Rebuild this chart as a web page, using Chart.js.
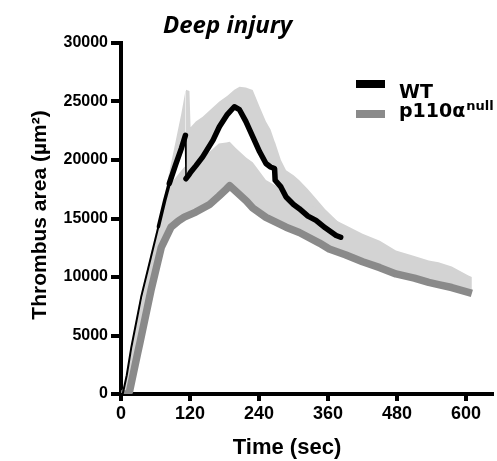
<!DOCTYPE html>
<html><head><meta charset="utf-8">
<script src="https://cdn.jsdelivr.net/npm/chart.js@4"></script>
<style>html,body{margin:0;padding:0;background:#fff}canvas{display:block}</style>
</head><body>
<canvas id="c" width="497" height="461"></canvas>
<script>
// ---- data (time in sec, thrombus area in µm²) ----
const WT_T  = [0,3,10,18,35,52,65,76,84,95,105,112,113,119,121,130,142,160,171,185,197,206,217,229,241,252,260,267,268,278,287,300,310,325,339,355,374,382];
const WT_V  = [0,0,1600,4000,8260,11690,14300,16550,18000,19600,21000,22100,18400,18800,18950,19500,20270,21700,22840,23900,24550,24300,23300,22000,20700,19700,19400,19270,18270,17700,16840,16200,15840,15200,14840,14200,13550,13400];
const WT_UP = [0,200,1900,4300,8600,12000,14700,17000,19000,21600,24000,25900,26000,25900,22800,23300,23700,24500,25000,25500,26000,26270,26200,25980,24550,23300,22600,21600,21500,20000,19130,18700,18270,17500,16700,15800,14900,14500];
const KO_T  = [0,10,12,15,29,33,52,70,87,100,110,130,154,170,183,189,200,218,229,252,287,310,345,362,390,420,450,478,510,535,552,575,604,610];
const KO_V  = [0,0,0,250,3500,4400,8830,12540,14260,14800,15120,15550,16200,16900,17500,17800,17300,16500,15900,15100,14260,13800,12900,12400,11900,11300,10800,10260,9900,9540,9350,9100,8690,8600];
const KO_UP = [0,1400,1900,2700,6500,7300,11500,15300,18000,18800,19400,19800,20700,21400,21500,21550,21000,20200,19800,18300,17300,16700,15700,15120,14450,13700,13100,12260,11800,11400,11260,10900,10120,10000];
const X_TICKS = [0,120,240,360,480,600];
const Y_TICKS = [0,5000,10000,15000,20000,25000,30000];
const SERIES = ['WT','p110\u03B1'];
const SERIES_SUP = ['', 'null'];
const TITLE = 'Deep injury';
const X_TITLE = 'Time (sec)';
const Y_TITLE = 'Thrombus area (\u00B5m\u00B2)';

const pts = (t, v) => t.map((x, i) => ({x: x, y: v[i]}));
const BAND = '#d3d3d3', KO_COL = '#8a8a8a';
const TICK_FONT = '"Liberation Sans", Arial, sans-serif';

const deco = {
  id: 'deco',
  afterDraw(chart) {
    const ctx = chart.ctx;
    ctx.save();
    ctx.fillStyle = '#000';
    ctx.textAlign = 'left';
    ctx.textBaseline = 'alphabetic';
    ctx.font = 'italic bold 24px "Open Sans", sans-serif';
    ctx.fillText(TITLE, 163, 33);
    // x title
    ctx.textAlign = 'center';
    ctx.font = 'bold 22px ' + TICK_FONT;
    ctx.fillText(X_TITLE, 287, 454);
    // y title
    ctx.save();
    ctx.translate(46, 215);
    ctx.rotate(-Math.PI / 2);
    ctx.font = 'bold 21px ' + TICK_FONT;
    ctx.fillText(Y_TITLE, 0, 0);
    ctx.restore();
    // legend
    const cols = ['#000', KO_COL];
    const ys = [84, 114];
    const bases = [98, 117];
    for (let i = 0; i < SERIES.length; i++) {
      ctx.fillStyle = cols[i];
      ctx.fillRect(356, ys[i] - 4, 29, 8);
      ctx.fillStyle = '#000';
      ctx.textAlign = 'left';
      ctx.font = 'bold 19px "DejaVu Sans", sans-serif';
      ctx.fillText(SERIES[i], 399, bases[i]);
      if (SERIES_SUP[i]) {
        const w = ctx.measureText(SERIES[i]).width;
        ctx.font = 'bold 13px "DejaVu Sans", sans-serif';
        ctx.fillText(SERIES_SUP[i], 399 + w + 1, bases[i] - 7);
      }
    }
    ctx.restore();
  }
};

new Chart(document.getElementById('c'), {
  type: 'line',
  data: {
    datasets: [
      {label: 'WT SEM', data: pts(WT_T, WT_UP), borderWidth: 0, borderColor: BAND, backgroundColor: BAND, fill: 2, pointRadius: 0, order: 4},
      {label: 'KO SEM', data: pts(KO_T, KO_UP), borderWidth: 0, borderColor: BAND, backgroundColor: BAND, fill: 3, pointRadius: 0, order: 3},
      {label: SERIES[0], data: pts(WT_T, WT_V), borderColor: '#000', borderWidth: 5.5, borderJoinStyle: 'round', borderCapStyle: 'round', fill: false, pointRadius: 0, order: 1,
        segment: {borderWidth: c => {
          const i0 = c.p0DataIndex, i1 = c.p1DataIndex;
          if (WT_V[i1] < WT_V[i0] - 2000) return 1.5;
          if (WT_T[i1] <= 65) return 2;
          if (WT_T[i1] <= 84) return 3.5;
          return 5.5;
        }}},
      {label: SERIES[1], data: pts(KO_T, KO_V), borderColor: KO_COL, borderWidth: 7.5, borderJoinStyle: 'round', fill: false, pointRadius: 0, order: 2}
    ]
  },
  options: {
    responsive: false,
    animation: false,
    devicePixelRatio: 1,
    layout: {padding: {top: 43, right: 5, left: 0, bottom: 0}},
    plugins: {legend: {display: false}, tooltip: {enabled: false}, title: {display: false}},
    elements: {line: {tension: 0}},
    scales: {
      x: {
        type: 'linear', min: 0, max: 645,
        afterBuildTicks: s => { s.ticks = X_TICKS.map(v => ({value: v})); },
        afterFit: s => { s.height = 67; },
        grid: {drawOnChartArea: false, color: '#000', lineWidth: 4, tickLength: 7},
        border: {color: '#000', width: 4},
        ticks: {color: '#000', font: {family: TICK_FONT, weight: 'bold', size: 18}, padding: 2, maxRotation: 0, includeBounds: false,
          callback: v => String(v)}
      },
      y: {
        type: 'linear', min: 0, max: 30000,
        afterBuildTicks: s => { s.ticks = Y_TICKS.map(v => ({value: v})); },
        afterFit: s => { s.width = 121; },
        grid: {drawOnChartArea: false, color: '#000', lineWidth: 4, tickLength: 10},
        border: {color: '#000', width: 4},
        ticks: {color: '#000', font: {family: TICK_FONT, weight: 'bold', size: 16}, padding: 3,
          callback: v => String(v)}
      }
    }
  },
  plugins: [deco]
});
</script>
</body></html>
